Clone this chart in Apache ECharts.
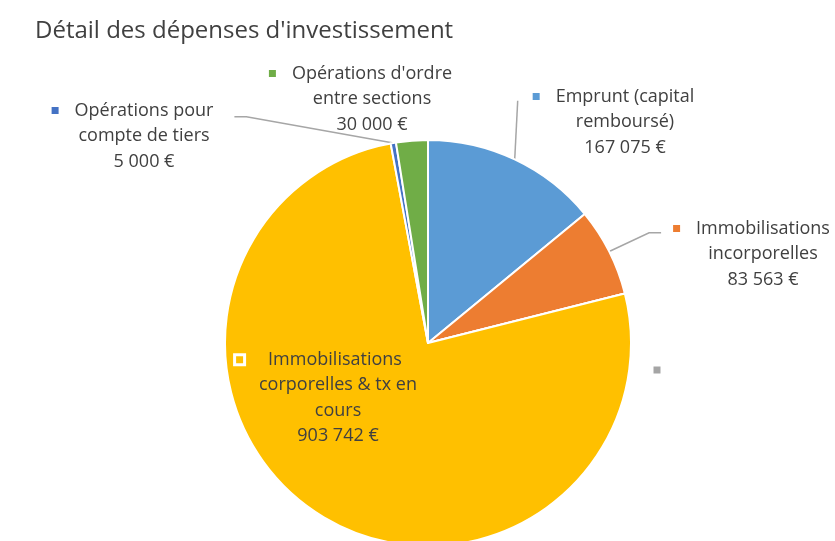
<!DOCTYPE html>
<html>
<head>
<meta charset="utf-8">
<script src="https://cdn.jsdelivr.net/npm/echarts@6/dist/echarts.min.js"></script>
<style>
  html, body { margin: 0; padding: 0; background: #fff; }
  #chart { width: 835px; height: 541px; }
</style>
</head>
<body>
<div id="chart"></div>
<script>
// data
const categories = [
  'Emprunt (capital\nremboursé)',
  'Immobilisations\nincorporelles',
  '',
  'Immobilisations\ncorporelles & tx en\ncours',
  'Opérations pour\ncompte de tiers',
  "Opérations d'ordre\nentre sections"
];
const values = [167075, 83563, 0, 903742, 5000, 30000];
const colors = ['#5B9BD5', '#ED7D31', '#A5A5A5', '#FFC000', '#4472C4', '#70AD47'];

// where each label block sits (centre), layout only
const labelPos = [[625, 122], [763, 254], [657, 370], [338, 398], [144, 136], [372, 99]];
const showLine = [true, true, false, false, true, false];

const fmt = v => String(v).replace(/\B(?=(\d{3})+(?!\d))/g, ' ') + ' €';
const FONT = '"Open Sans", sans-serif';
const TXT = '#404040';
const FS = 18;

const chart = echarts.init(document.getElementById('chart'));

const data = categories.map((name, i) => {
  const sq = { width: 7, height: 7, backgroundColor: colors[i] };
  if (i === 3) { sq.borderColor = '#fff'; sq.borderWidth = 3; }
  return {
    name: name,
    value: values[i],
    itemStyle: { color: colors[i] },
    labelLine: { show: showLine[i] },
    label: {
      rich: {
        sq: sq,
        gap: { width: i === 3 ? 25 : 16 },
        pad: { width: sq.width + (sq.borderWidth || 0) * 2 },
        t: { fontFamily: FONT, fontSize: FS, color: TXT, lineHeight: 25.5 }
      }
    }
  };
});

chart.setOption({
  animation: false,
  title: {
    text: "Détail des dépenses d'investissement",
    left: 30,
    top: 14,
    textStyle: { fontFamily: FONT, fontSize: 24, fontWeight: 'normal', color: TXT }
  },
  series: [{
    type: 'pie',
    center: [428, 343],
    radius: 203,
    startAngle: 90,
    clockwise: true,
    avoidLabelOverlap: false,
    data: data,
    itemStyle: { borderColor: '#fff', borderWidth: 2 },
    label: {
      show: true,
      fontFamily: FONT,
      fontSize: FS,
      color: TXT,
      lineHeight: 25.5,
      align: 'center',
      formatter: p => {
        if (!p.name) return '{sq|}';
        const lines = p.name.split('\n');
        const out = ['{sq|}{gap|}{t|' + lines[0] + '}{gap|}{pad|}'];
        for (let k = 1; k < lines.length; k++) out.push('{t|' + lines[k] + '}');
        out.push('{t|' + fmt(p.value) + '}');
        return out.join('\n');
      }
    },
    labelLine: {
      lineStyle: { color: '#A6A6A6', width: 1.5 }
    },
    labelLayout: p => {
      const i = p.dataIndex;
      const cx = labelPos[i][0], cy = labelPos[i][1];
      const w = p.labelRect.width, h = p.labelRect.height;
      const left = cx - w / 2, right = cx + w / 2, top = cy - h / 2;
      const res = { x: cx, y: cy, align: 'center', verticalAlign: 'middle' };
      const p0 = p.labelLinePoints && p.labelLinePoints[0];
      if (p0) {
        if (i === 0) res.labelLinePoints = [p0, [p0[0] + 3, top + 17]];
        if (i === 1) res.labelLinePoints = [p0, [left - 24, top + 17], [left - 12, top + 17]];
        if (i === 4) res.labelLinePoints = [p0, [right + 10, top + 19], [right - 2, top + 19]];
      }
      return res;
    }
  }]
});
</script>
</body>
</html>
